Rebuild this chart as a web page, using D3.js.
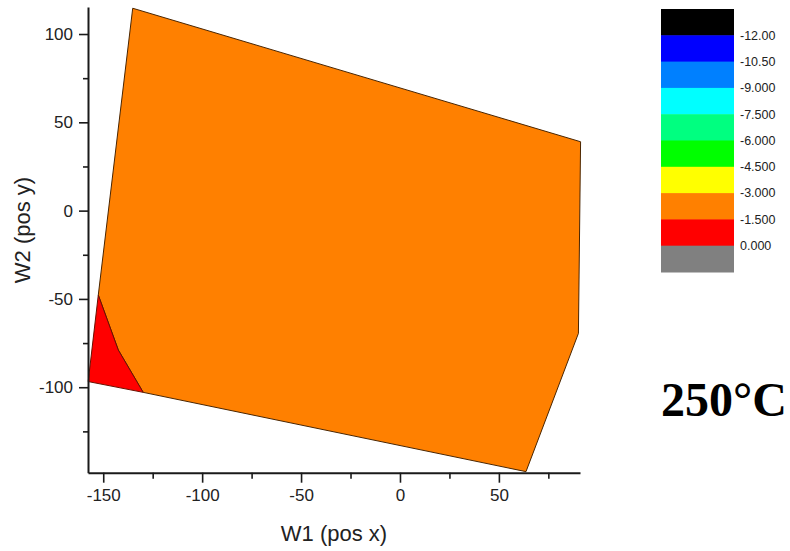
<!DOCTYPE html>
<html>
<head>
<meta charset="utf-8">
<script src="https://cdn.jsdelivr.net/npm/d3@7"></script>
<style>
  body { margin: 0; background: #fff; }
  svg { display: block; }
</style>
</head>
<body>
<svg id="chart" width="790" height="551"></svg>
<script>
// contour regions, [W1, W2]
var orangeRegion = [
    [-135.1, 114.6], [91.3, 39.0], [90.2, -69.5], [63.7, -147.8],
    [-129.8, -102.9], [-142.4, -78.9], [-152.5, -47.8]
];
var redRegion = [
    [-152.5, -47.8], [-142.4, -78.9], [-129.8, -102.9], [-157.6, -96.8]
];

var xTicks = [-150, -100, -50, 0, 50];
var xMinor = [-125, -75, -25, 25, 75];
var yTicks = [-100, -50, 0, 50, 100];
var yMinor = [-125, -75, -25, 25, 75];

var legendColors = ["#000000", "#0000ff", "#0080ff", "#00ffff", "#00ff80",
                    "#00ff00", "#ffff00", "#ff8000", "#ff0000", "#808080"];
var legendLabels = ["-12.00", "-10.50", "-9.000", "-7.500", "-6.000",
                    "-4.500", "-3.000", "-1.500", "0.000"];

var svg = d3.select("#chart");

var xScale = d3.scaleLinear().domain([-157.7, 91]).range([88, 580]);
var yScale = d3.scaleLinear().domain([-148.4, 115.3]).range([472.7, 7]);

// plain hyphen minus like the original
var fmt = function(d) { return String(d); };

var line = d3.line()
    .x(function(d) { return xScale(d[0]); })
    .y(function(d) { return yScale(d[1]); });

svg.append("path")
    .attr("d", line(orangeRegion) + "Z")
    .attr("fill", "#ff8000")
    .attr("stroke", "#4a2500")
    .attr("stroke-width", 1);

svg.append("path")
    .attr("d", line(redRegion) + "Z")
    .attr("fill", "#ff0000")
    .attr("stroke", "#6a1000")
    .attr("stroke-width", 1);

// axes
svg.append("g")
    .attr("transform", "translate(0," + yScale.range()[0] + ")")
    .call(d3.axisBottom(xScale).tickValues(xTicks).tickSize(10).tickSizeOuter(0).tickPadding(6).tickFormat(fmt));
svg.append("g")
    .attr("transform", "translate(0," + yScale.range()[0] + ")")
    .call(d3.axisBottom(xScale).tickValues(xMinor).tickSize(6).tickSizeOuter(0).tickFormat(""))
    .select(".domain").remove();

svg.append("g")
    .attr("transform", "translate(" + xScale.range()[0] + ",0)")
    .call(d3.axisLeft(yScale).tickValues(yTicks).tickSize(9).tickSizeOuter(0).tickPadding(6).tickFormat(fmt));
svg.append("g")
    .attr("transform", "translate(" + xScale.range()[0] + ",0)")
    .call(d3.axisLeft(yScale).tickValues(yMinor).tickSize(5).tickSizeOuter(0).tickFormat(""))
    .select(".domain").remove();

svg.selectAll(".domain").attr("stroke", "#1a1a1a").attr("stroke-width", 2);
svg.selectAll(".tick line").attr("stroke", "#1a1a1a").attr("stroke-width", 1.6);
svg.selectAll(".tick text")
    .attr("font-family", "Liberation Sans, Arial, sans-serif")
    .attr("font-size", 17)
    .attr("fill", "#222");

// axis titles
svg.append("text")
    .attr("x", 334)
    .attr("y", 541)
    .attr("text-anchor", "middle")
    .attr("font-family", "Liberation Sans, Arial, sans-serif")
    .attr("font-size", 22)
    .attr("fill", "#222")
    .text("W1 (pos x)");

svg.append("text")
    .attr("transform", "translate(30,230) rotate(-90)")
    .attr("text-anchor", "middle")
    .attr("font-family", "Liberation Sans, Arial, sans-serif")
    .attr("font-size", 22)
    .attr("fill", "#222")
    .text("W2 (pos y)");

// legend
var legendY = d3.scaleBand()
    .domain(d3.range(legendColors.length))
    .range([9, 272])
    .padding(0);

svg.append("g").selectAll("rect")
    .data(legendColors)
    .enter()
    .append("rect")
        .attr("x", 661)
        .attr("y", function(d, i) { return legendY(i); })
        .attr("width", 73)
        .attr("height", legendY.bandwidth() + 0.5)
        .attr("fill", function(d) { return d; });

svg.append("g").selectAll("text")
    .data(legendLabels)
    .enter()
    .append("text")
        .attr("x", 740)
        .attr("y", function(d, i) { return legendY(i + 1); })
        .attr("dy", "0.35em")
        .attr("font-family", "Liberation Sans, Arial, sans-serif")
        .attr("font-size", 12.5)
        .attr("fill", "#222")
        .text(function(d) { return d; });

// temperature tag
svg.append("text")
    .attr("x", 661)
    .attr("y", 416)
    .attr("font-family", "Liberation Serif, serif")
    .attr("font-weight", "bold")
    .attr("font-size", 48)
    .attr("fill", "#000")
    .text("250°C");
</script>
</body>
</html>
